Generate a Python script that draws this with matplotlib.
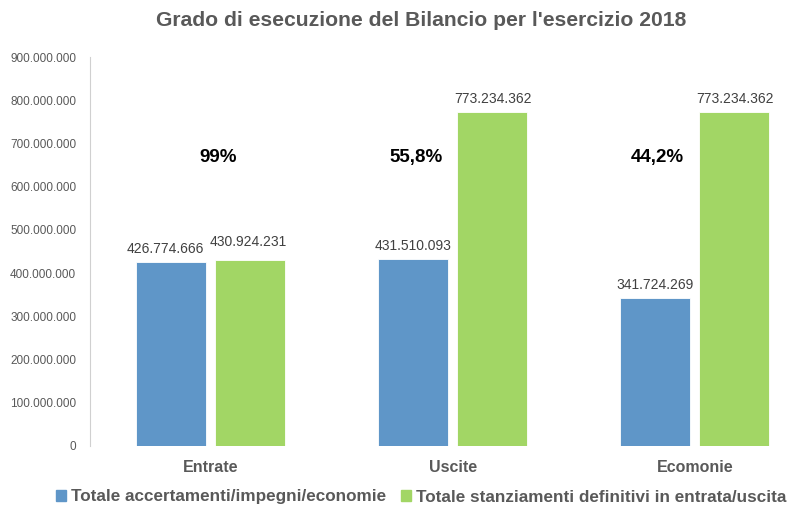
import matplotlib
matplotlib.use('Agg')
import matplotlib.pyplot as plt
from matplotlib.ticker import FuncFormatter
from matplotlib.patches import Patch
import numpy as np

# data
categories = ['Entrate', 'Uscite', 'Ecomonie']
totale_acc = [426774666, 431510093, 341724269]
totale_stanz = [430924231, 773234362, 773234362]
percentuali = ['99%', '55,8%', '44,2%']
legend_labels = ['Totale accertamenti/impegni/economie',
                 'Totale stanziamenti definitivi in entrata/uscita']

BLUE = '#5f96c8'
GREEN = '#a2d665'
GREY = '#595959'

plt.rcParams['font.family'] = ['Liberation Sans', 'DejaVu Sans']

fig = plt.figure(figsize=(7.87, 5.08), dpi=100, facecolor='w')
ax = fig.add_axes([90/787, 1 - 446/508, 726/787, 389/508])

x = np.arange(len(categories))
w = 0.29
off_b = -0.165
off_g = 0.161

bars_b = ax.bar(x + off_b, totale_acc, w, color=BLUE, edgecolor='white', linewidth=0.6)
bars_g = ax.bar(x + off_g, totale_stanz, w, color=GREEN, edgecolor='white', linewidth=0.6)

fmt = lambda v: '{:,}'.format(int(v)).replace(',', '.')

# small nudges (points) so the Entrate labels don't collide, like excel does
nudge_b = [(-4, 4), (0, 4.5), (0, 4.5)]
nudge_g = [(-1, 8), (1, 4.5), (1, 4.5)]
for bars, vals, nud in [(bars_b, totale_acc, nudge_b), (bars_g, totale_stanz, nudge_g)]:
    for b, v, n in zip(bars, vals, nud):
        ax.annotate(fmt(v), (b.get_x() + b.get_width()/2, v), xytext=n,
                    textcoords='offset points', ha='center', va='bottom',
                    fontsize=10, color='#404040')

pct_x = [0.03, -0.153, -0.157]
for xi, px, p in zip(x, pct_x, percentuali):
    ax.text(xi + px, 668e6, p, ha='center', va='center', fontsize=13.5,
            fontweight='bold', color='black')

ax.set_xlim(-0.5, 2.5)
ax.set_ylim(0, 900e6)
ax.set_yticks(np.arange(0, 900e6 + 1, 100e6))
ax.yaxis.set_major_formatter(FuncFormatter(lambda v, p: fmt(v)))
ax.tick_params(axis='y', length=0, labelsize=8.5, labelcolor=GREY, pad=10)
ax.set_xticks(x)
ax.set_xticklabels(categories, fontsize=11.5, fontweight='bold', color=GREY)
ax.tick_params(axis='x', length=0, pad=10)

for s in ['top', 'right', 'bottom']:
    ax.spines[s].set_visible(False)
ax.spines['left'].set_color('#d0d0d0')

fig.text(421/787, 1 - 20/508, "Grado di esecuzione del Bilancio per l'esercizio 2018",
         ha='center', va='center', fontsize=15.2, fontweight='bold', color=GREY)

handles = [Patch(color=BLUE), Patch(color=GREEN)]
fig.legend(handles, legend_labels, loc='center', bbox_to_anchor=(421/787, 1 - 497/508),
           ncol=2, frameon=False, handlelength=0.6, handleheight=0.6, handletextpad=0.25,
           columnspacing=0.9,
           prop={'weight': 'bold', 'size': 12.3}, labelcolor=GREY)

fig.savefig('out.png', dpi=100)
